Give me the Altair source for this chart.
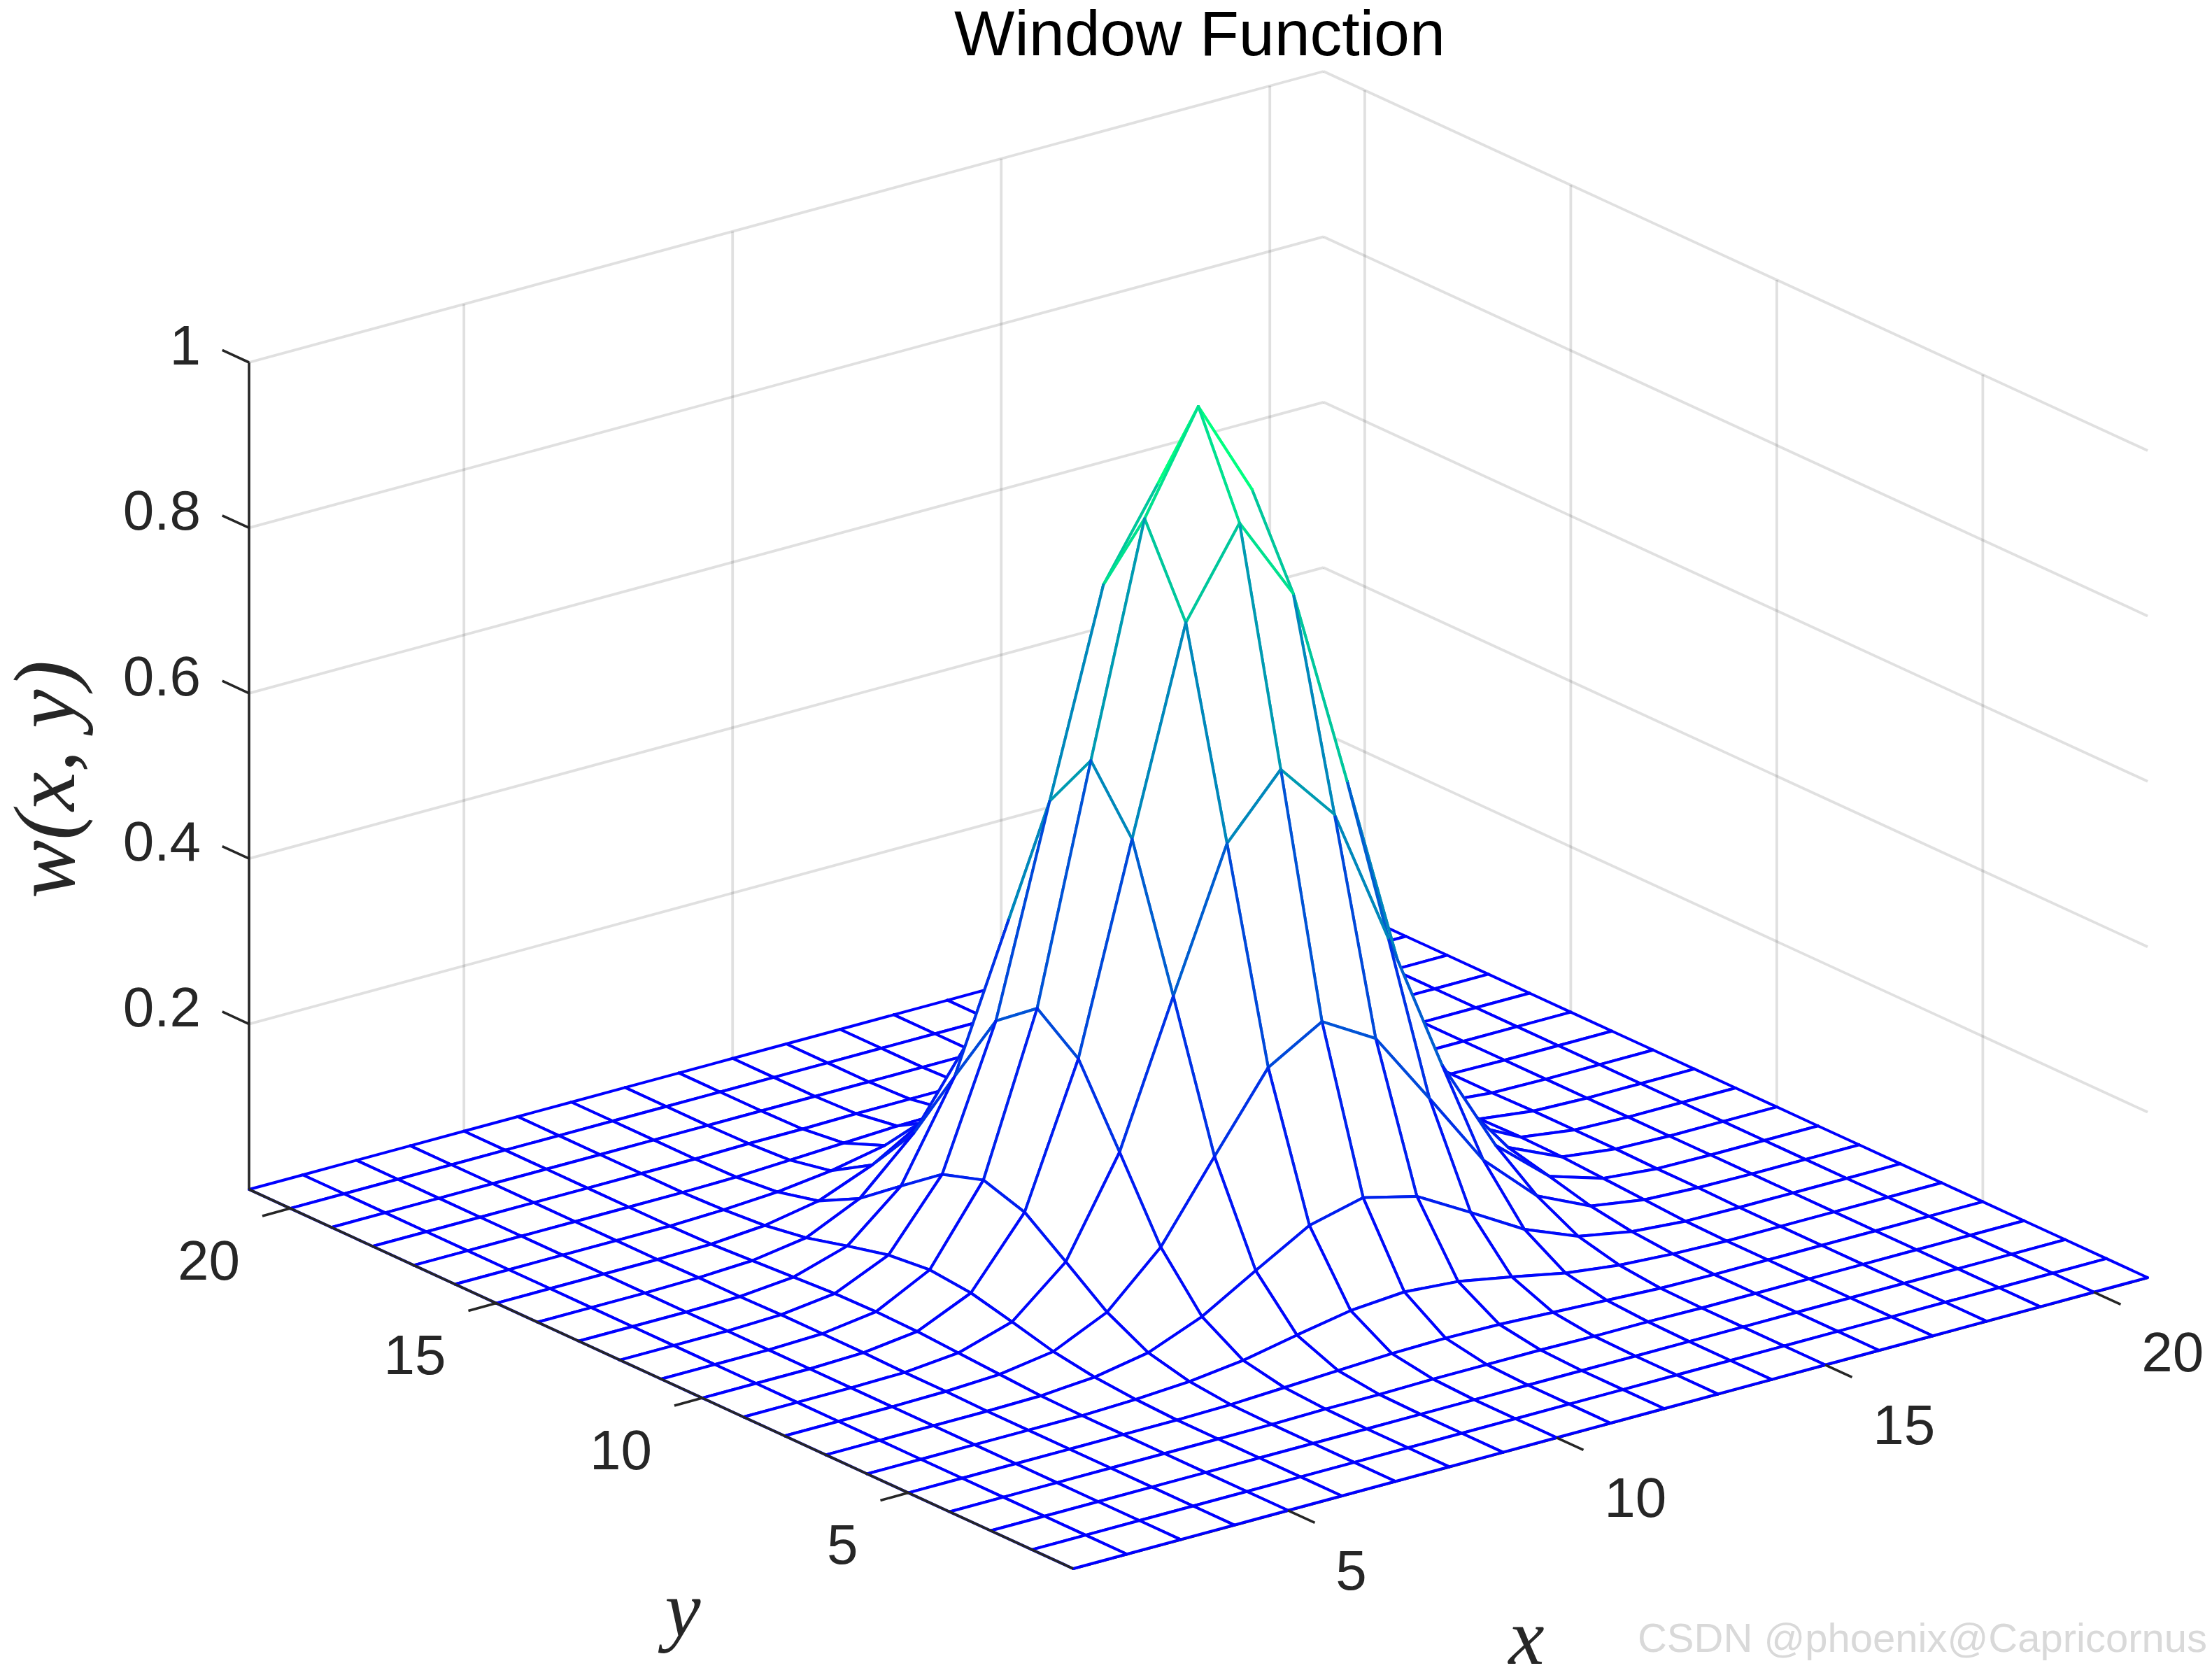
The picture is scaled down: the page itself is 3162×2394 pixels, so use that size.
import altair as alt
import pandas as pd

TITLE = "Window Function"
Z_TICKS = [0.2, 0.4, 0.6, 0.8, 1.0]
Z_LABELS = ["0.2", "0.4", "0.6", "0.8", "1"]
XY_TICKS = [5, 10, 15, 20]
XY_LABELS = ["5", "10", "15", "20"]

W = [
[0,0,0,0,0,0,0,0,0,0,0,0,0,0,0,0,0,0,0,0,0],
[0,0,0,0,0,0,0,0,0,0,0,0,0,0,0,0,0,0,0,0,0],
[0,0,0,0,0,0,0,0,0,0,0,0,0,0,0,0,0,0,0,0,0],
[0,0,0,0,0,0,0,.001,.001,.002,.002,.002,.001,.001,0,0,0,0,0,0,0],
[0,0,0,0,0,0,.001,.004,.007,.010,.011,.010,.007,.004,.001,0,0,0,0,0,0],
[0,0,0,0,0,.002,.006,.014,.027,.039,.044,.039,.027,.014,.006,.002,0,0,0,0,0],
[0,0,0,0,.001,.006,.018,.044,.082,.119,.135,.119,.082,.044,.018,.006,.001,0,0,0,0],
[0,0,0,.001,.004,.014,.044,.105,.197,.287,.325,.287,.197,.105,.044,.014,.004,.001,0,0,0],
[0,0,0,.001,.007,.027,.082,.197,.368,.535,.607,.535,.368,.197,.082,.027,.007,.001,0,0,0],
[0,0,0,.002,.010,.039,.119,.287,.535,.779,.882,.779,.535,.287,.119,.039,.010,.002,0,0,0],
[0,0,0,.002,.011,.044,.135,.325,.607,.882,1.00,.882,.607,.325,.135,.044,.011,.002,0,0,0],
[0,0,0,.002,.010,.039,.119,.287,.535,.779,.882,.779,.535,.287,.119,.039,.010,.002,0,0,0],
[0,0,0,.001,.007,.027,.082,.197,.368,.535,.607,.535,.368,.197,.082,.027,.007,.001,0,0,0],
[0,0,0,.001,.004,.014,.044,.105,.197,.287,.325,.287,.197,.105,.044,.014,.004,.001,0,0,0],
[0,0,0,0,.001,.006,.018,.044,.082,.119,.135,.119,.082,.044,.018,.006,.001,0,0,0,0],
[0,0,0,0,0,.002,.006,.014,.027,.039,.044,.039,.027,.014,.006,.002,0,0,0,0,0],
[0,0,0,0,0,0,.001,.004,.007,.010,.011,.010,.007,.004,.001,0,0,0,0,0,0],
[0,0,0,0,0,0,0,.001,.001,.002,.002,.002,.001,.001,0,0,0,0,0,0,0],
[0,0,0,0,0,0,0,0,0,0,0,0,0,0,0,0,0,0,0,0,0],
[0,0,0,0,0,0,0,0,0,0,0,0,0,0,0,0,0,0,0,0,0],
[0,0,0,0,0,0,0,0,0,0,0,0,0,0,0,0,0,0,0,0,0],
]

W_PX, H_PX = 3146, 2378
N = 21


def proj(x, y, z=0.0):
    """Parallel 3-D view: data (x, y, z) to picture coordinates."""
    return (1534 + 76.8 * (x - 1) - 58.9 * (y - 1),
            2242 - 20.8 * (x - 1) - 27.1 * (y - 1) - 1182 * z)


def winter(z):
    return "#%02x%02x%02x" % (0, round(255 * z), round(255 * (1 - z / 2)))


def height(c):
    return W[c[1] - 1][c[0] - 1]


# painter's order: farthest cell first, each cell = white fill, then its edges
rows = []
gid = 0


def add(points, fill, stroke):
    global gid
    gid += 1
    for k, (px, py) in enumerate(points):
        rows.append({"g": gid, "k": k, "px": round(px, 2), "py": round(py, 2),
                     "fill": fill, "stroke": stroke})


def add_edge(a, b):
    # each edge is flat, coloured by the height of its lower-index vertex
    first = a if a[0] + a[1] < b[0] + b[1] else b
    add([proj(a[0], a[1], height(a)), proj(b[0], b[1], height(b))],
        "transparent", winter(height(first)))


for j in range(N - 1, 0, -1):
    for i in range(N - 1, 0, -1):
        corners = [(i, j), (i + 1, j), (i + 1, j + 1), (i, j + 1)]
        poly = [proj(c[0], c[1], height(c)) for c in corners]
        add(poly + [poly[0]], "white", "transparent")
        for m in range(4):
            add_edge(corners[m], corners[(m + 1) % 4])

mesh_df = pd.DataFrame(rows)

X = alt.X("px:Q", scale=alt.Scale(domain=[8, 8 + W_PX]), axis=None)
Y = alt.Y("py:Q", scale=alt.Scale(domain=[8 + H_PX, 8]), axis=None)


def seg_frame(segments):
    out = []
    for a, b in segments:
        pa, pb = proj(*a), proj(*b)
        out.append({"px": pa[0], "py": pa[1], "px2": pb[0], "py2": pb[1]})
    return pd.DataFrame(out)


def rule_layer(segments, **kw):
    return alt.Chart(seg_frame(segments)).mark_rule(**kw).encode(
        x=X, y=Y, x2="px2:Q", y2="py2:Q")


grid_segments = []
for z in Z_TICKS:
    grid_segments.append(((1, 21, z), (21, 21, z)))
    grid_segments.append(((21, 21, z), (21, 1, z)))
for t in XY_TICKS:
    grid_segments.append(((t, 21, 0), (t, 21, 1)))
    grid_segments.append(((21, t, 0), (21, t, 1)))

grid = rule_layer(grid_segments, stroke="#262626", strokeOpacity=0.14, strokeWidth=3.8)
x_axis = rule_layer([((1, 1, 0), (21, 1, 0))], stroke="#262626", strokeWidth=4.4)
y_axis = rule_layer([((1, 1, 0), (1, 21, 0))], stroke="#262626", strokeWidth=3.6)
z_axis = rule_layer([((1, 21, 0), (1, 21, 1))], stroke="#262626", strokeWidth=3.6)

TICK = 0.65
ticks = []
for t in XY_TICKS:
    ticks.append(((t, 1, 0), (t, 1 - TICK, 0)))
    ticks.append(((1, t, 0), (1 - 0.52, t, 0)))
for z in Z_TICKS:
    ticks.append(((1, 21, z), (1, 21 + TICK, z)))
tick_layer = rule_layer(ticks, stroke="#262626", strokeWidth=3.6)

mesh = alt.Chart(mesh_df).mark_line(strokeWidth=4, strokeCap="round", strokeJoin="round").encode(
    x=X, y=Y,
    detail="g:N",
    order="k:Q",
    fill=alt.Fill("fill:N", scale=None),
    stroke=alt.Stroke("stroke:N", scale=None),
)


def text_layer(frame, **kw):
    return alt.Chart(pd.DataFrame(frame)).mark_text(
        baseline="alphabetic", **kw).encode(x=X, y=Y, text="t:N")


z_text = []
for z, lab in zip(Z_TICKS, Z_LABELS):
    p = proj(1, 21, z)
    z_text.append({"px": p[0] - 69, "py": p[1] + 3, "t": lab})
y_text, x_text = [], []
for t, lab in zip(XY_TICKS, XY_LABELS):
    p = proj(1, t, 0)
    y_text.append({"px": p[0] - 72, "py": p[1] + 101.5, "t": lab})
    p = proj(t, 1, 0)
    x_text.append({"px": p[0] + 68, "py": p[1] + 113, "t": lab})

FONT = "Liberation Sans"
SERIF = "Liberation Serif"
texts = [
    text_layer(z_text, font=FONT, fontSize=80, align="right", color="#262626"),
    text_layer(y_text, font=FONT, fontSize=80, align="right", color="#262626"),
    text_layer(x_text, font=FONT, fontSize=80, align="left", color="#262626"),
    text_layer([{"px": 1715, "py": 79, "t": TITLE}], font=FONT, fontSize=91.5, align="center", color="#000000"),
    text_layer([{"px": 106, "py": 1114, "t": "w(x, y)"}], font=SERIF, fontStyle="italic", fontSize=125,
               align="center", angle=270, color="#262626"),
    text_layer([{"px": 976, "py": 2339, "t": "y"}], font=SERIF, fontStyle="italic", fontSize=115,
               align="center", color="#262626"),
    text_layer([{"px": 2182, "py": 2378, "t": "x"}], font=SERIF, fontStyle="italic", fontSize=115,
               align="center", color="#262626"),
    text_layer([{"px": 3155, "py": 2361, "t": "CSDN @phoenix@Capricornus"}], font=FONT, fontSize=58,
               align="right", color="#d9d9d9"),
]

chart = alt.layer(grid, x_axis, mesh, y_axis, z_axis, tick_layer, *texts).properties(
    width=W_PX, height=H_PX, padding=0, autosize=alt.AutoSizeParams(type="none"),
    background="white",
).configure_view(stroke=None)

chart.save("out.html", embed_options={"renderer": "svg", "actions": False})
